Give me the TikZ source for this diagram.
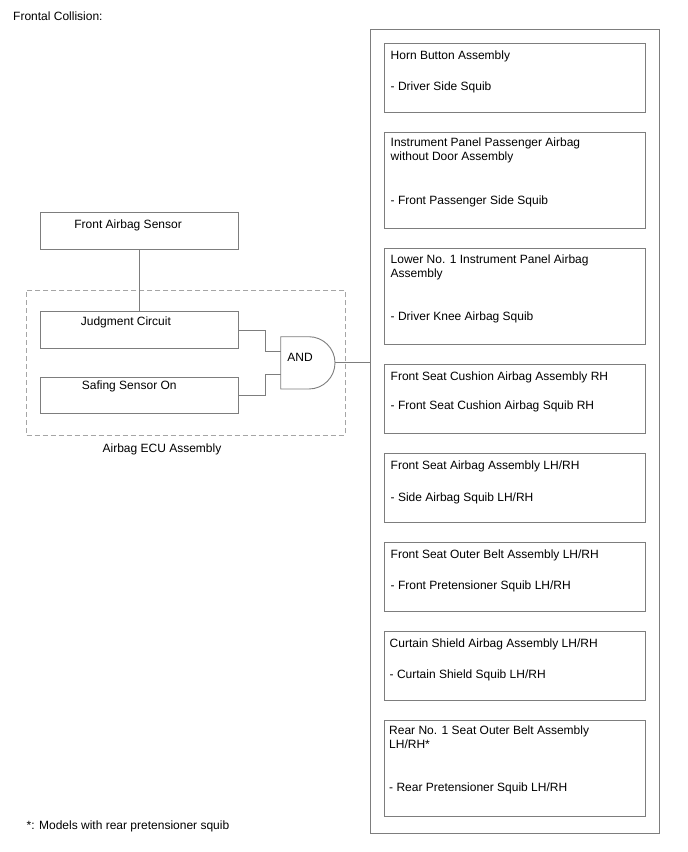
\documentclass[tikz,border=0pt]{standalone}
\usepackage{fontspec}
\setmainfont{Liberation Sans}
\usetikzlibrary{positioning}
\definecolor{linegray}{RGB}{125,125,125}
\definecolor{dashgray}{RGB}{165,165,165}
\tikzstyle{unit} = [rectangle, draw=linegray, line width=0.9pt, minimum width=261.7pt, minimum height=69pt, inner sep=0pt, outer sep=0pt]
\tikzstyle{tallunit} = [unit, minimum height=96pt]
\tikzstyle{ecupart} = [rectangle, draw=linegray, line width=0.9pt, minimum width=197.6pt, minimum height=37pt, inner sep=0pt, outer sep=0pt]
\tikzstyle{txt} = [anchor=north west, inner sep=0pt, align=left, font=\fontsize{12}{14}\selectfont]
\tikzstyle{wire} = [draw=linegray, line width=0.9pt]

\begin{document}
\begin{tikzpicture}[x=1pt, y=-1pt, node distance=20pt]
\useasboundingbox (0,0) rectangle (688,852);

% Headings
\node[txt] (title) at (13,11.7) {Frontal Collision:};
\node[txt] (note) at (26.5,820.7) {*: Models with rear pretensioner squib};

% Squib side
\node[rectangle, draw=linegray, line width=0.9pt, minimum width=289.3pt, minimum height=804pt, anchor=north west] (outer) at (370,29.3) {};
\node[unit, anchor=north] (horn) at (514.85,43.3) {};
\node[tallunit, below=of horn] (ipab) {};
\node[tallunit, below=of ipab] (knee) {};
\node[unit, below=of knee] (cush) {};
\node[unit, below=of cush] (side) {};
\node[unit, below=of side] (belt) {};
\node[unit, below=of belt] (curt) {};
\node[tallunit, below=of curt] (rear) {};

\node[txt] (hornA) at ([shift={(6.5,7.5)}]horn.north west) {Horn Button Assembly};
\node[txt] (hornB) at ([shift={(6.5,38.5)}]horn.north west) {- Driver Side Squib};
\node[txt] (ipabA) at ([shift={(6.5,5.5)}]ipab.north west) {Instrument Panel Passenger Airbag\\without Door Assembly};
\node[txt] (ipabB) at ([shift={(6.5,63)}]ipab.north west) {- Front Passenger Side Squib};
\node[txt] (kneeA) at ([shift={(6.5,6)}]knee.north west) {Lower No. 1 Instrument Panel Airbag\\Assembly};
\node[txt] (kneeB) at ([shift={(6.5,63)}]knee.north west) {- Driver Knee Airbag Squib};
\node[txt] (cushA) at ([shift={(6.5,7.5)}]cush.north west) {Front Seat Cushion Airbag Assembly RH};
\node[txt] (cushB) at ([shift={(6.5,36)}]cush.north west) {- Front Seat Cushion Airbag Squib RH};
\node[txt] (sideA) at ([shift={(6.5,7.5)}]side.north west) {Front Seat Airbag Assembly LH/RH};
\node[txt] (sideB) at ([shift={(6.5,39)}]side.north west) {- Side Airbag Squib LH/RH};
\node[txt] (beltA) at ([shift={(6.5,7.5)}]belt.north west) {Front Seat Outer Belt Assembly LH/RH};
\node[txt] (beltB) at ([shift={(6.5,38.5)}]belt.north west) {- Front Pretensioner Squib LH/RH};
\node[txt] (curtA) at ([shift={(5.5,7)}]curt.north west) {Curtain Shield Airbag Assembly LH/RH};
\node[txt] (curtB) at ([shift={(5.5,38.5)}]curt.north west) {- Curtain Shield Squib LH/RH};
\node[txt] (rearA) at ([shift={(5,5.5)}]rear.north west) {Rear No. 1 Seat Outer Belt Assembly\\LH/RH*};
\node[txt] (rearB) at ([shift={(5,62)}]rear.north west) {- Rear Pretensioner Squib LH/RH};

% ECU side
\node[rectangle, draw=dashgray, dash pattern=on 5pt off 3pt, line width=0.9pt, minimum width=318.3pt, minimum height=145pt, inner sep=0pt, outer sep=0pt, anchor=north west] (ecu) at (26.7,290) {};
\node[txt, anchor=north] (ecuT) at (162,444) {Airbag ECU Assembly};

\node[ecupart, anchor=north west] (fas) at (40.7,212.3) {};
\node[ecupart, below=62.4pt of fas] (judg) {};
\node[ecupart, minimum height=36pt, below=28.6pt of judg] (saf) {};
\node[txt] (fasT) at ([shift={(33.5,7)}]fas.north west) {Front Airbag Sensor};
\node[txt] (judgT) at ([shift={(40,5)}]judg.north west) {Judgment Circuit};
\node[txt] (safT) at ([shift={(41,3.7)}]saf.north west) {Safing Sensor On};

% AND gate
\node[minimum width=54.3pt, minimum height=52.3pt, inner sep=0pt, outer sep=0pt] (gate) at (307.85,362.85) {};
\draw[wire] (gate.north west) -- ++(28.15,0) arc[start angle=-90, end angle=90, radius=26.15] -- (gate.south west) -- cycle;
\node[txt, anchor=north] (gateT) at (300,353.4) {AND};
\coordinate (in1) at (280.7,351.7);
\coordinate (in2) at (280.7,374.3);

% Wires
\draw[wire] (fas) -- (judg);
\draw[wire] (judg.east) -- ++(27.4,0) |- (in1);
\draw[wire] (saf.east) -- ++(27.4,0) |- (in2);
\draw[wire] (gate.east) -- (gate.east -| outer.west);

\end{tikzpicture}
\end{document}
